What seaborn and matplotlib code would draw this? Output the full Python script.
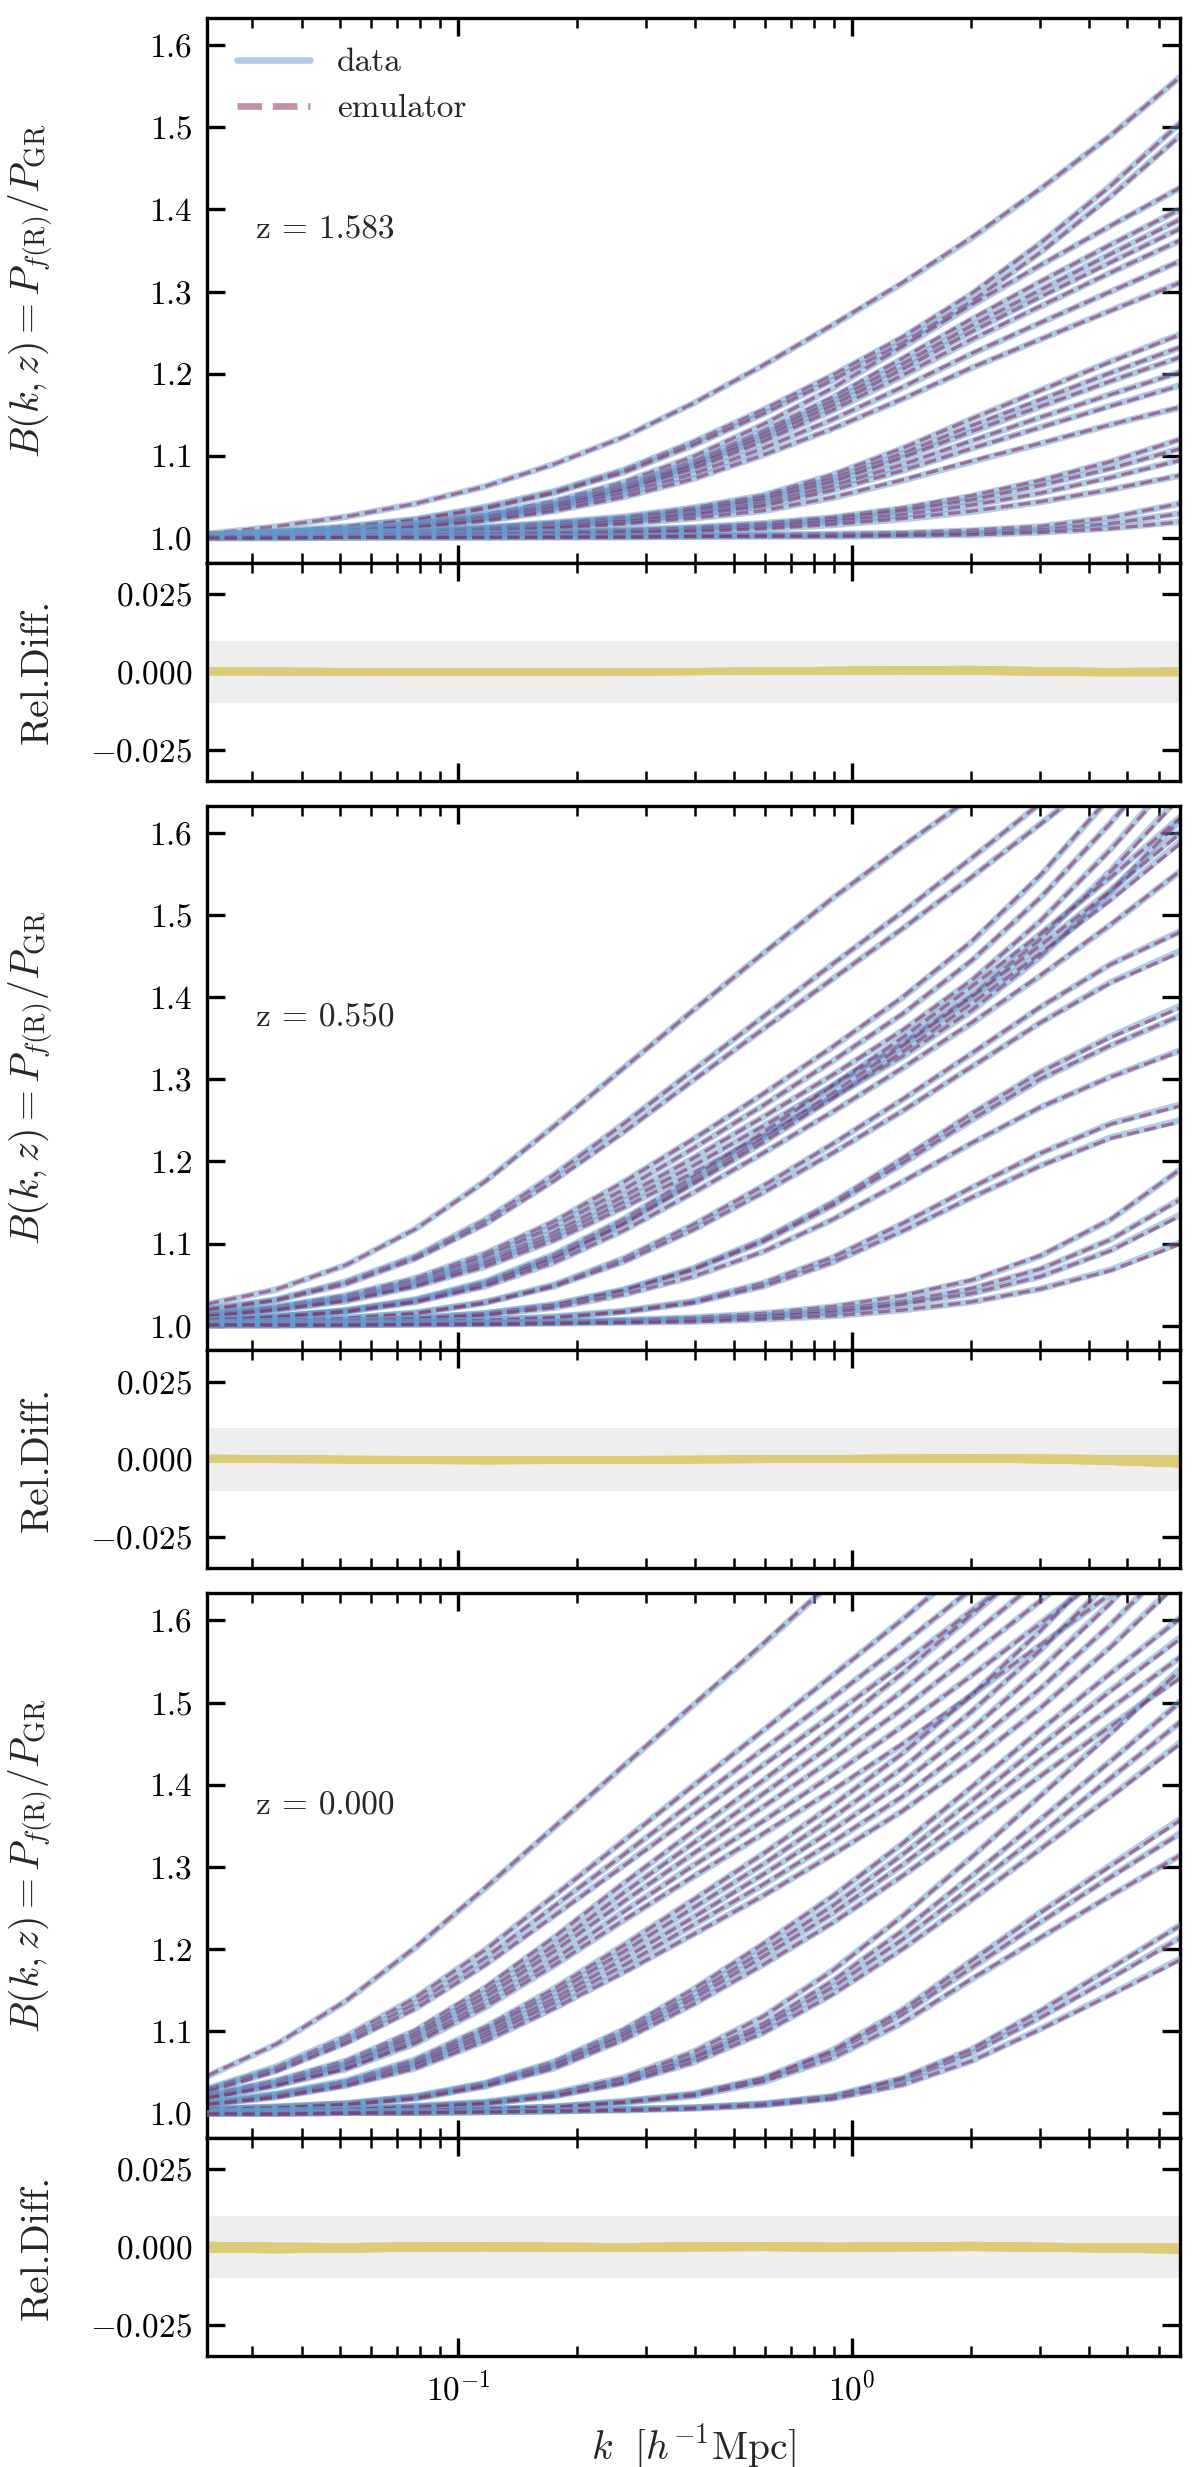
import numpy as np
import pandas as pd
import matplotlib
matplotlib.use("Agg")
import matplotlib.pyplot as plt
from matplotlib.lines import Line2D
from matplotlib.ticker import FixedLocator, ScalarFormatter, NullLocator
import seaborn as sns

# ---------------- data ----------------
K_NODES = [0.023, 0.0345, 0.0519, 0.0779, 0.117, 0.175, 0.263, 0.395,
           0.594, 0.891, 1.34, 2.01, 3.01, 4.53, 6.8]

REDSHIFT_LABELS = ["z = 1.583", "z = 0.550", "z = 0.000"]

B_Z1583 = [
    [1.005, 1.014, 1.026, 1.042, 1.063, 1.090, 1.123, 1.164, 1.210, 1.259, 1.310, 1.365, 1.425, 1.490, 1.561],
    [1.004, 1.008, 1.014, 1.023, 1.038, 1.057, 1.083, 1.117, 1.156, 1.198, 1.244, 1.297, 1.359, 1.429, 1.505],
    [1.004, 1.007, 1.013, 1.022, 1.036, 1.055, 1.080, 1.113, 1.151, 1.192, 1.237, 1.288, 1.348, 1.416, 1.490],
    [1.004, 1.007, 1.011, 1.018, 1.029, 1.045, 1.068, 1.099, 1.138, 1.182, 1.232, 1.283, 1.332, 1.380, 1.426],
    [1.004, 1.007, 1.010, 1.017, 1.027, 1.042, 1.064, 1.093, 1.130, 1.171, 1.218, 1.266, 1.312, 1.357, 1.400],
    [1.004, 1.006, 1.010, 1.016, 1.026, 1.041, 1.062, 1.090, 1.126, 1.166, 1.211, 1.258, 1.302, 1.346, 1.388],
    [1.004, 1.006, 1.010, 1.016, 1.026, 1.040, 1.060, 1.088, 1.122, 1.161, 1.205, 1.251, 1.294, 1.336, 1.377],
    [1.003, 1.006, 1.009, 1.015, 1.025, 1.038, 1.058, 1.084, 1.117, 1.155, 1.197, 1.241, 1.282, 1.323, 1.362],
    [1.003, 1.006, 1.009, 1.014, 1.023, 1.036, 1.054, 1.078, 1.109, 1.144, 1.183, 1.224, 1.262, 1.300, 1.337],
    [1.003, 1.005, 1.008, 1.013, 1.021, 1.033, 1.050, 1.072, 1.101, 1.133, 1.169, 1.207, 1.242, 1.277, 1.311],
    [1.003, 1.004, 1.007, 1.009, 1.013, 1.019, 1.026, 1.037, 1.052, 1.077, 1.109, 1.145, 1.180, 1.215, 1.248],
    [1.003, 1.004, 1.007, 1.008, 1.012, 1.018, 1.024, 1.035, 1.049, 1.072, 1.102, 1.136, 1.168, 1.201, 1.232],
    [1.003, 1.004, 1.006, 1.008, 1.012, 1.017, 1.023, 1.033, 1.046, 1.068, 1.097, 1.129, 1.160, 1.191, 1.220],
    [1.002, 1.003, 1.006, 1.007, 1.011, 1.015, 1.021, 1.030, 1.042, 1.063, 1.089, 1.118, 1.147, 1.175, 1.202],
    [1.002, 1.003, 1.005, 1.007, 1.010, 1.014, 1.020, 1.028, 1.039, 1.058, 1.082, 1.109, 1.135, 1.161, 1.186],
    [1.002, 1.003, 1.004, 1.006, 1.008, 1.012, 1.017, 1.024, 1.033, 1.049, 1.070, 1.093, 1.115, 1.138, 1.159],
    [1.002, 1.003, 1.004, 1.005, 1.006, 1.008, 1.010, 1.013, 1.018, 1.025, 1.036, 1.051, 1.070, 1.093, 1.120],
    [1.002, 1.003, 1.004, 1.005, 1.005, 1.007, 1.009, 1.012, 1.016, 1.023, 1.033, 1.046, 1.064, 1.085, 1.109],
    [1.002, 1.002, 1.003, 1.004, 1.005, 1.006, 1.008, 1.010, 1.014, 1.020, 1.028, 1.040, 1.055, 1.074, 1.095],
    [1.001, 1.002, 1.003, 1.003, 1.004, 1.005, 1.006, 1.008, 1.011, 1.016, 1.023, 1.032, 1.044, 1.059, 1.076],
    [1.001, 1.001, 1.001, 1.002, 1.002, 1.002, 1.003, 1.003, 1.004, 1.005, 1.006, 1.009, 1.014, 1.025, 1.042],
    [1.001, 1.001, 1.001, 1.001, 1.001, 1.002, 1.002, 1.002, 1.003, 1.003, 1.004, 1.006, 1.010, 1.018, 1.030],
    [1.000, 1.000, 1.001, 1.001, 1.001, 1.001, 1.001, 1.002, 1.002, 1.002, 1.003, 1.004, 1.007, 1.012, 1.020],
]

B_Z0550 = [
    [1.026, 1.044, 1.074, 1.118, 1.176, 1.243, 1.314, 1.384, 1.453, 1.520, 1.583, 1.643, 1.700, 1.753, 1.802],
    [1.020, 1.032, 1.054, 1.085, 1.129, 1.184, 1.246, 1.311, 1.376, 1.440, 1.503, 1.569, 1.636, 1.706, 1.780],
    [1.019, 1.031, 1.051, 1.082, 1.124, 1.177, 1.236, 1.299, 1.361, 1.422, 1.483, 1.546, 1.611, 1.678, 1.749],
    [1.014, 1.023, 1.037, 1.058, 1.088, 1.127, 1.175, 1.227, 1.282, 1.339, 1.399, 1.467, 1.548, 1.644, 1.750],
    [1.013, 1.022, 1.035, 1.055, 1.084, 1.121, 1.166, 1.216, 1.268, 1.322, 1.379, 1.444, 1.521, 1.612, 1.713],
    [1.013, 1.021, 1.033, 1.052, 1.079, 1.114, 1.158, 1.204, 1.254, 1.305, 1.359, 1.420, 1.493, 1.580, 1.675],
    [1.012, 1.020, 1.032, 1.050, 1.076, 1.109, 1.151, 1.195, 1.243, 1.292, 1.343, 1.402, 1.471, 1.554, 1.645],
    [1.011, 1.019, 1.030, 1.048, 1.072, 1.104, 1.144, 1.186, 1.231, 1.278, 1.327, 1.383, 1.449, 1.528, 1.615],
    [1.007, 1.011, 1.019, 1.032, 1.054, 1.087, 1.130, 1.181, 1.235, 1.292, 1.350, 1.412, 1.477, 1.546, 1.619],
    [1.007, 1.011, 1.018, 1.031, 1.052, 1.084, 1.126, 1.176, 1.228, 1.283, 1.340, 1.400, 1.463, 1.530, 1.601],
    [1.007, 1.011, 1.018, 1.030, 1.051, 1.082, 1.124, 1.173, 1.223, 1.277, 1.333, 1.392, 1.454, 1.519, 1.589],
    [1.006, 1.010, 1.017, 1.029, 1.048, 1.077, 1.116, 1.162, 1.210, 1.260, 1.313, 1.368, 1.426, 1.488, 1.553],
    [1.004, 1.006, 1.009, 1.016, 1.029, 1.050, 1.082, 1.123, 1.170, 1.221, 1.275, 1.331, 1.388, 1.440, 1.480],
    [1.004, 1.006, 1.009, 1.015, 1.028, 1.048, 1.078, 1.117, 1.162, 1.210, 1.261, 1.315, 1.369, 1.418, 1.456],
    [1.003, 1.004, 1.006, 1.009, 1.015, 1.026, 1.044, 1.070, 1.105, 1.150, 1.203, 1.258, 1.309, 1.352, 1.389],
    [1.003, 1.004, 1.006, 1.009, 1.015, 1.025, 1.043, 1.068, 1.102, 1.146, 1.197, 1.250, 1.300, 1.341, 1.377],
    [1.003, 1.003, 1.005, 1.008, 1.013, 1.022, 1.038, 1.060, 1.090, 1.129, 1.175, 1.222, 1.266, 1.303, 1.335],
    [1.002, 1.003, 1.003, 1.005, 1.007, 1.011, 1.018, 1.030, 1.052, 1.083, 1.124, 1.168, 1.210, 1.246, 1.269],
    [1.002, 1.003, 1.003, 1.005, 1.007, 1.010, 1.017, 1.028, 1.048, 1.077, 1.115, 1.156, 1.195, 1.229, 1.250],
    [1.001, 1.001, 1.002, 1.003, 1.004, 1.005, 1.007, 1.010, 1.015, 1.023, 1.036, 1.055, 1.085, 1.129, 1.190],
    [1.001, 1.001, 1.002, 1.002, 1.003, 1.004, 1.006, 1.008, 1.012, 1.019, 1.029, 1.045, 1.069, 1.105, 1.154],
    [1.001, 1.001, 1.001, 1.002, 1.003, 1.004, 1.005, 1.007, 1.011, 1.016, 1.026, 1.039, 1.060, 1.092, 1.135],
    [1.001, 1.001, 1.001, 1.002, 1.002, 1.003, 1.004, 1.005, 1.008, 1.012, 1.019, 1.029, 1.045, 1.068, 1.101],
]

B_Z0000 = [
    [1.045, 1.084, 1.137, 1.202, 1.274, 1.348, 1.423, 1.497, 1.571, 1.647, 1.724, 1.802, 1.879, 1.957, 2.035],
    [1.030, 1.057, 1.094, 1.141, 1.199, 1.265, 1.332, 1.399, 1.466, 1.533, 1.601, 1.672, 1.743, 1.813, 1.884],
    [1.029, 1.054, 1.089, 1.134, 1.189, 1.252, 1.315, 1.379, 1.443, 1.506, 1.571, 1.638, 1.706, 1.772, 1.840],
    [1.027, 1.052, 1.086, 1.128, 1.181, 1.241, 1.302, 1.363, 1.424, 1.485, 1.547, 1.612, 1.676, 1.740, 1.804],
    [1.022, 1.040, 1.064, 1.101, 1.153, 1.214, 1.280, 1.343, 1.405, 1.468, 1.535, 1.606, 1.678, 1.752, 1.826],
    [1.021, 1.038, 1.061, 1.097, 1.147, 1.205, 1.269, 1.329, 1.389, 1.449, 1.514, 1.582, 1.651, 1.722, 1.793],
    [1.020, 1.037, 1.059, 1.093, 1.141, 1.197, 1.258, 1.316, 1.373, 1.431, 1.492, 1.558, 1.624, 1.692, 1.760],
    [1.019, 1.035, 1.056, 1.089, 1.135, 1.188, 1.246, 1.302, 1.356, 1.412, 1.471, 1.533, 1.597, 1.662, 1.727],
    [1.018, 1.034, 1.054, 1.085, 1.129, 1.180, 1.235, 1.288, 1.340, 1.393, 1.449, 1.509, 1.570, 1.632, 1.694],
    [1.013, 1.024, 1.040, 1.066, 1.105, 1.152, 1.205, 1.260, 1.316, 1.375, 1.438, 1.509, 1.588, 1.676, 1.772],
    [1.012, 1.023, 1.038, 1.063, 1.101, 1.146, 1.197, 1.250, 1.303, 1.360, 1.420, 1.489, 1.564, 1.649, 1.741],
    [1.012, 1.022, 1.037, 1.061, 1.097, 1.140, 1.189, 1.239, 1.291, 1.345, 1.403, 1.468, 1.541, 1.622, 1.710],
    [1.011, 1.021, 1.035, 1.058, 1.092, 1.134, 1.180, 1.229, 1.278, 1.330, 1.385, 1.448, 1.517, 1.595, 1.679],
    [1.011, 1.020, 1.034, 1.055, 1.088, 1.128, 1.172, 1.218, 1.265, 1.315, 1.368, 1.428, 1.494, 1.568, 1.649],
    [1.005, 1.008, 1.012, 1.021, 1.037, 1.063, 1.102, 1.151, 1.206, 1.264, 1.328, 1.397, 1.467, 1.536, 1.603],
    [1.005, 1.008, 1.012, 1.020, 1.036, 1.060, 1.098, 1.145, 1.198, 1.253, 1.315, 1.381, 1.448, 1.515, 1.579],
    [1.005, 1.007, 1.011, 1.019, 1.034, 1.058, 1.094, 1.139, 1.190, 1.243, 1.302, 1.365, 1.430, 1.493, 1.555],
    [1.004, 1.007, 1.011, 1.018, 1.033, 1.055, 1.090, 1.133, 1.181, 1.232, 1.289, 1.349, 1.411, 1.472, 1.531],
    [1.002, 1.003, 1.005, 1.008, 1.013, 1.023, 1.041, 1.069, 1.109, 1.161, 1.222, 1.289, 1.358, 1.429, 1.501],
    [1.002, 1.003, 1.005, 1.009, 1.014, 1.025, 1.044, 1.075, 1.118, 1.174, 1.240, 1.312, 1.387, 1.463, 1.541],
    [1.002, 1.003, 1.005, 1.008, 1.012, 1.022, 1.039, 1.066, 1.104, 1.153, 1.211, 1.275, 1.340, 1.408, 1.476],
    [1.002, 1.003, 1.005, 1.007, 1.012, 1.021, 1.037, 1.062, 1.098, 1.145, 1.200, 1.260, 1.322, 1.386, 1.451],
    [1.001, 1.001, 1.002, 1.003, 1.005, 1.008, 1.014, 1.023, 1.041, 1.073, 1.120, 1.177, 1.233, 1.288, 1.341],
    [1.001, 1.001, 1.002, 1.003, 1.005, 1.008, 1.015, 1.024, 1.043, 1.077, 1.126, 1.186, 1.245, 1.302, 1.358],
    [1.001, 1.001, 1.002, 1.003, 1.005, 1.007, 1.013, 1.021, 1.038, 1.067, 1.110, 1.163, 1.214, 1.265, 1.314],
    [1.000, 1.000, 1.001, 1.001, 1.002, 1.003, 1.005, 1.007, 1.011, 1.020, 1.040, 1.073, 1.117, 1.165, 1.214],
    [1.000, 1.000, 1.001, 1.001, 1.002, 1.003, 1.005, 1.007, 1.012, 1.021, 1.043, 1.078, 1.125, 1.177, 1.229],
    [1.000, 1.000, 1.001, 1.001, 1.002, 1.003, 1.004, 1.006, 1.010, 1.018, 1.035, 1.064, 1.103, 1.145, 1.188],
]

# relative difference emulator/data - 1 (representative patterns per redshift)
REL_Z1583 = [
    [0.0002, 0.0002, 0.0001, 0.0000, -0.0001, -0.0001, 0.0000, 0.0001, 0.0002, 0.0004, 0.0006, 0.0006, 0.0003, 0.0000, 0.0001],
    [0.0001, 0.0000, 0.0000, -0.0001, -0.0002, -0.0002, -0.0001, 0.0000, 0.0001, 0.0002, 0.0004, 0.0004, 0.0001, -0.0003, -0.0002],
    [-0.0001, -0.0001, -0.0001, -0.0002, -0.0002, -0.0002, -0.0001, 0.0000, 0.0000, 0.0001, 0.0002, 0.0001, -0.0002, -0.0004, -0.0004],
    [0.0003, 0.0002, 0.0001, 0.0001, 0.0000, 0.0000, 0.0001, 0.0001, 0.0003, 0.0005, 0.0007, 0.0008, 0.0004, 0.0001, 0.0003],
]
REL_Z0550 = [
    [0.0003, 0.0002, 0.0000, -0.0002, -0.0003, -0.0002, -0.0001, 0.0000, 0.0001, 0.0002, 0.0003, 0.0004, 0.0002, -0.0002, -0.0006],
    [0.0002, 0.0001, -0.0001, -0.0003, -0.0004, -0.0003, -0.0002, -0.0001, 0.0000, 0.0001, 0.0002, 0.0002, 0.0000, -0.0005, -0.0012],
    [0.0000, -0.0001, -0.0002, -0.0004, -0.0005, -0.0004, -0.0003, -0.0002, -0.0001, 0.0000, 0.0001, 0.0001, -0.0002, -0.0007, -0.0015],
    [0.0004, 0.0003, 0.0001, 0.0000, -0.0001, 0.0000, 0.0000, 0.0001, 0.0002, 0.0003, 0.0005, 0.0006, 0.0005, 0.0003, 0.0002],
]
REL_Z0000 = [
    [0.0006, 0.0003, 0.0002, 0.0004, 0.0005, 0.0003, 0.0002, 0.0004, 0.0005, 0.0003, 0.0004, 0.0006, 0.0003, 0.0001, 0.0000],
    [-0.0003, -0.0006, -0.0004, -0.0001, 0.0000, -0.0002, -0.0003, -0.0001, 0.0000, -0.0002, -0.0001, 0.0001, -0.0002, -0.0005, -0.0008],
    [0.0001, -0.0002, -0.0001, 0.0001, 0.0002, 0.0001, 0.0000, 0.0002, 0.0002, 0.0000, 0.0001, 0.0003, 0.0000, -0.0003, -0.0004],
    [-0.0007, -0.0009, -0.0007, -0.0004, -0.0003, -0.0004, -0.0005, -0.0003, -0.0002, -0.0004, -0.0003, -0.0002, -0.0004, -0.0007, -0.0010],
]

MAIN_YTICKS = [1.0, 1.1, 1.2, 1.3, 1.4, 1.5, 1.6]
REL_YTICKS = [-0.025, 0.0, 0.025]

# ---------------- style ----------------
DATA_COLOR = "#6699CC"
EMU_COLOR = "#882255"
REL_COLOR = "#DDCC77"
BAND_COLOR = "#EEEEEE"

sns.set_style("ticks")
plt.rcParams.update({
    "font.family": "serif",
    "font.serif": ["cmr10", "DejaVu Serif"],
    "mathtext.fontset": "cm",
    "axes.formatter.use_mathtext": True,
    "axes.linewidth": 0.8,
    "axes.edgecolor": "black",
    "xtick.color": "black",
    "ytick.color": "black",
    "axes.unicode_minus": True,
})


def long_frame(curves, rels):
    rows = []
    for i, c in enumerate(curves):
        r = rels[i % len(rels)]
        for k, b, d in zip(K_NODES, c, r):
            rows.append((i, k, b, b * (1.0 + d), d))
    return pd.DataFrame(rows, columns=["curve", "k", "data", "emulator", "rel"])


def style_axis(ax):
    ax.set_xscale("log")
    ax.set_xlim(0.023, 6.8)
    ax.tick_params(which="both", direction="in", top=True, right=True,
                   labelsize=8, colors="black")
    ax.tick_params(which="major", length=4.3, width=0.8)
    ax.tick_params(which="minor", length=2.5, width=0.6)
    ax.yaxis.set_minor_locator(NullLocator())
    for s in ax.spines.values():
        s.set_linewidth(0.8)
        s.set_color("black")


fig = plt.figure(figsize=(4.0, 2467 / 300), dpi=300)
outer = fig.add_gridspec(3, 1, left=207 / 1200, right=1180 / 1200,
                         top=1 - 18 / 2467, bottom=1 - 2356 / 2467, hspace=0.0328)

panels = [(B_Z1583, REL_Z1583), (B_Z0550, REL_Z0550), (B_Z0000, REL_Z0000)]

for g, ((curves, rels), zlab) in enumerate(zip(panels, REDSHIFT_LABELS)):
    inner = outer[g].subgridspec(2, 1, height_ratios=[2.5, 1], hspace=0)
    ax = fig.add_subplot(inner[0])
    axr = fig.add_subplot(inner[1], sharex=ax)
    df = long_frame(curves, rels)
    n = len(curves)

    sns.lineplot(data=df, x="k", y="data", units="curve", estimator=None, sort=False,
                 color=DATA_COLOR, alpha=0.5, linewidth=1.6, ax=ax)
    data_lines = list(ax.lines[-n:])
    sns.lineplot(data=df, x="k", y="emulator", units="curve", estimator=None, sort=False,
                 color=EMU_COLOR, alpha=0.55, linewidth=0.8, linestyle="--", ax=ax)
    emu_lines = list(ax.lines[-n:])
    # interleave drawing order: data_i, emulator_i, data_{i+1}, ...
    for i, (dl, el) in enumerate(zip(data_lines, emu_lines)):
        dl.set_zorder(2 + 0.01 * (2 * i))
        el.set_zorder(2 + 0.01 * (2 * i + 1))

    axr.axhspan(-0.01, 0.01, color=BAND_COLOR, lw=0, zorder=0)
    sns.lineplot(data=df, x="k", y="rel", units="curve", estimator=None, sort=False,
                 color=REL_COLOR, alpha=0.6, linewidth=1.6, ax=axr)

    for a in (ax, axr):
        style_axis(a)

    ax.set_ylim(0.97, 1.633)
    ax.yaxis.set_major_locator(FixedLocator(MAIN_YTICKS))
    ax.yaxis.set_major_formatter(ScalarFormatter())
    axr.set_ylim(-0.035, 0.035)
    axr.yaxis.set_major_locator(FixedLocator(REL_YTICKS))
    axr.yaxis.set_major_formatter(ScalarFormatter())

    ax.tick_params(labelbottom=False)
    ax.set_xlabel("")
    ax.set_ylabel(r"$B(k,z) = P_{f(\mathrm{R})}/P_{\mathrm{GR}}$", fontsize=9.5)
    axr.set_ylabel("Rel.Diff.", fontsize=9.5)
    ax.yaxis.set_label_coords(-0.156, 0.5)
    axr.yaxis.set_label_coords(-0.156, 0.5)

    ax.text(0.05, 0.61, zlab, transform=ax.transAxes, ha="left", va="center", fontsize=8)

    if g == 0:
        handles = [Line2D([], [], color=DATA_COLOR, alpha=0.5, lw=1.6),
                   Line2D([], [], color=EMU_COLOR, alpha=0.5, lw=1.6, ls="--")]
        ax.legend(handles, ["data", "emulator"], loc="upper left", frameon=False,
                  fontsize=8, handlelength=2.2)

    if g < 2:
        axr.tick_params(labelbottom=False)
        axr.set_xlabel("")
    else:
        axr.set_xlabel(r"$k\ \ [h^{-1}\mathrm{Mpc}]$", fontsize=9.5)

fig.savefig("out.png", dpi=300)
